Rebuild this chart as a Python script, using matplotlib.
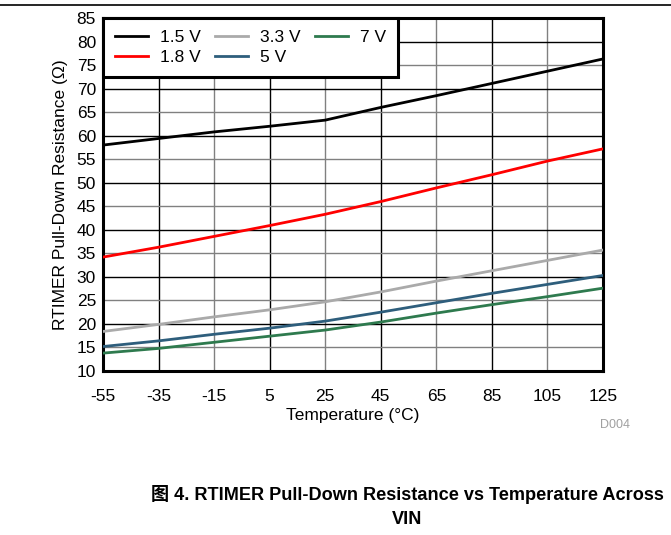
import matplotlib.pyplot as plt
import numpy as np

plt.rcParams["font.family"] = ["Liberation Sans", "Noto Sans CJK SC", "DejaVu Sans"]
plt.rcParams["axes.unicode_minus"] = False

temps = [-55, -35, -15, 5, 25, 45, 65, 85, 105, 125]
r_1v5 = [58.0, 59.4, 60.8, 62.0, 63.3, 66.0, 68.5, 71.1, 73.7, 76.3]
r_1v8 = [34.2, 36.3, 38.6, 40.9, 43.3, 46.0, 48.9, 51.7, 54.6, 57.2]
r_3v3 = [18.4, 19.9, 21.5, 23.0, 24.7, 26.8, 29.1, 31.3, 33.5, 35.7]
r_5v = [15.2, 16.4, 17.8, 19.1, 20.6, 22.5, 24.5, 26.5, 28.4, 30.3]
r_7v = [13.8, 14.8, 16.1, 17.4, 18.7, 20.4, 22.3, 24.1, 25.8, 27.6]

series = [
    ("1.5 V", r_1v5, "#000000"),
    ("1.8 V", r_1v8, "#FF0000"),
    ("3.3 V", r_3v3, "#AAAAAA"),
    ("5 V", r_5v, "#2E5E7C"),
    ("7 V", r_7v, "#2E7A4E"),
]

fig = plt.figure(figsize=(6.71, 5.35), dpi=100)
ax = fig.add_axes([103 / 671, 1 - 371 / 535, 500 / 671, 353 / 535])

# grid: alternating dark / gray lines like the datasheet plot
xt = np.arange(-55, 126, 20)
yt = np.arange(10, 86, 5)
for i, x in enumerate(xt[1:-1]):
    ax.axvline(x, color="#000000" if i % 2 == 0 else "#808080", linewidth=1.0, zorder=1)
for i, y in enumerate(yt[1:-1]):
    ax.axhline(y, color="#808080" if i % 2 == 0 else "#000000", linewidth=1.0, zorder=1)

for label, vals, color in series:
    ax.plot(temps, vals, color=color, linewidth=2.0, label=label, zorder=3)

ax.set_xlim(-55, 125)
ax.set_ylim(10, 85)
ax.set_xticks(xt)
ax.set_yticks(yt)
ax.tick_params(axis="x", length=0, labelsize=12.5, pad=13)
ax.tick_params(axis="y", length=0, labelsize=12.5, pad=5)
for s in ax.spines.values():
    s.set_linewidth(2.2)
ax.set_xlabel("Temperature (°C)", fontsize=12.5, labelpad=3)
ax.set_ylabel("RTIMER Pull-Down Resistance (Ω)", fontsize=12.5, labelpad=6)

leg = ax.legend(ncol=3, loc="upper left", fontsize=12.5, frameon=True, fancybox=False,
                borderaxespad=0.0, handlelength=1.9, columnspacing=0.8,
                handletextpad=0.7, labelspacing=0.25, borderpad=0.7)
leg.get_frame().set_edgecolor("#000000")
leg.get_frame().set_linewidth(2.2)
leg.get_frame().set_alpha(1.0)
leg.set_zorder(5)

fig.text(615 / 671, 1 - 425 / 535, "D004", fontsize=9, color="#A0A0A0", ha="center", va="center")

# document rule at the top
fig.add_artist(plt.Line2D([0, 1], [1 - 5 / 535, 1 - 5 / 535], color="#000000", linewidth=1.2))

fig.text(407 / 671, 1 - 494 / 535, "图 4. RTIMER Pull-Down Resistance vs Temperature Across",
         fontsize=13.1, fontweight="bold", ha="center", va="center")
fig.text(407 / 671, 1 - 520 / 535, "VIN", fontsize=13.1, fontweight="bold", ha="center", va="center")

fig.savefig("out.png", dpi=100)
